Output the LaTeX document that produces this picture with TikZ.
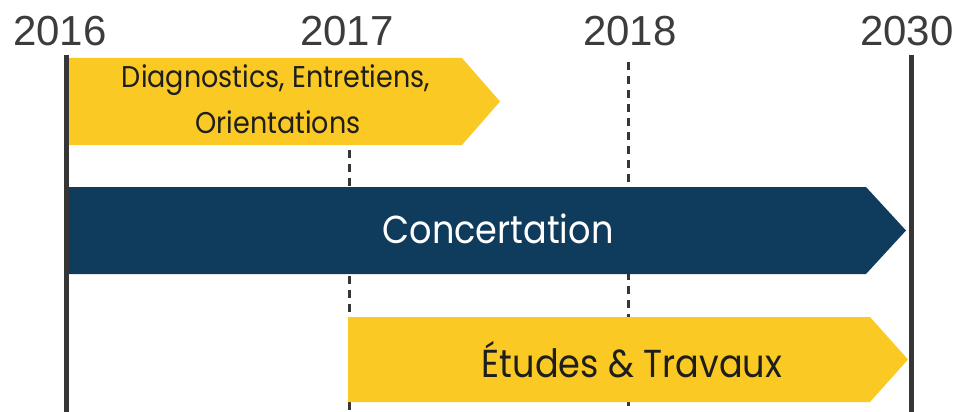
\documentclass[tikz,border=0pt]{standalone}
\usepackage{fontspec}
\setmainfont{Liberation Sans}
\newfontfamily\geo[FakeStretch=0.9]{Poppins}
\definecolor{barYellow}{HTML}{FAC923}
\definecolor{barNavy}{HTML}{0F3B5C}
\definecolor{lineGray}{HTML}{363636}
\definecolor{yearGray}{HTML}{3C3C3C}
\definecolor{txtDark}{HTML}{1E1E1E}
\begin{document}
\begin{tikzpicture}[x=1pt,y=-1pt,
  year/.style={font=\fontsize{42}{42}\selectfont, text=yearGray, inner sep=0pt, anchor=center},
  solidline/.style={draw=lineGray, line width=5pt},
  dashline/.style={draw=lineGray, line width=3pt, dash pattern=on 8pt off 6pt},
  bartxt/.style={font=\geo\fontsize{30}{42}\selectfont, inner sep=0pt, anchor=center, align=center}]
\useasboundingbox (0,0) rectangle (961,412);
% year labels
\node[year] (y16) at (60,31) {2016};
\node[year] (y17) at (347,31) {2017};
\node[year] (y18) at (630,31) {2018};
\node[year] (y30) at (907,31) {2030};
% dashed lines
\draw[dashline] (349,150) -- (349,412);
\draw[dashline] (628,62) -- (628,412);
% bars
\fill[barYellow] (67,58) -- (462,58) -- (500,101.5) -- (462,145) -- (67,145) -- cycle;
\fill[barNavy] (67,187) -- (866,187) -- (906,230.5) -- (866,274) -- (67,274) -- cycle;
\fill[barYellow] (348,317) -- (870,317) -- (908,359.5) -- (870,402) -- (348,402) -- cycle;
% solid lines
\draw[solidline] (66,55) -- (66,412);
\draw[solidline] (911,55) -- (911,412);
% texts
\node[bartxt, text=txtDark] (t1a) at (276,80) {Diagnostics, Entretiens,};
\node[bartxt, text=txtDark] (t1b) at (278,122) {Orientations};
\node[bartxt, text=white, font=\geo\fontsize{39}{40}\selectfont] (t2) at (498,229) {Concertation};
\node[bartxt, text=txtDark, font=\geo\fontsize{39}{40}\selectfont] (t3) at (632,360) {Études \& Travaux};
\end{tikzpicture}
\end{document}
